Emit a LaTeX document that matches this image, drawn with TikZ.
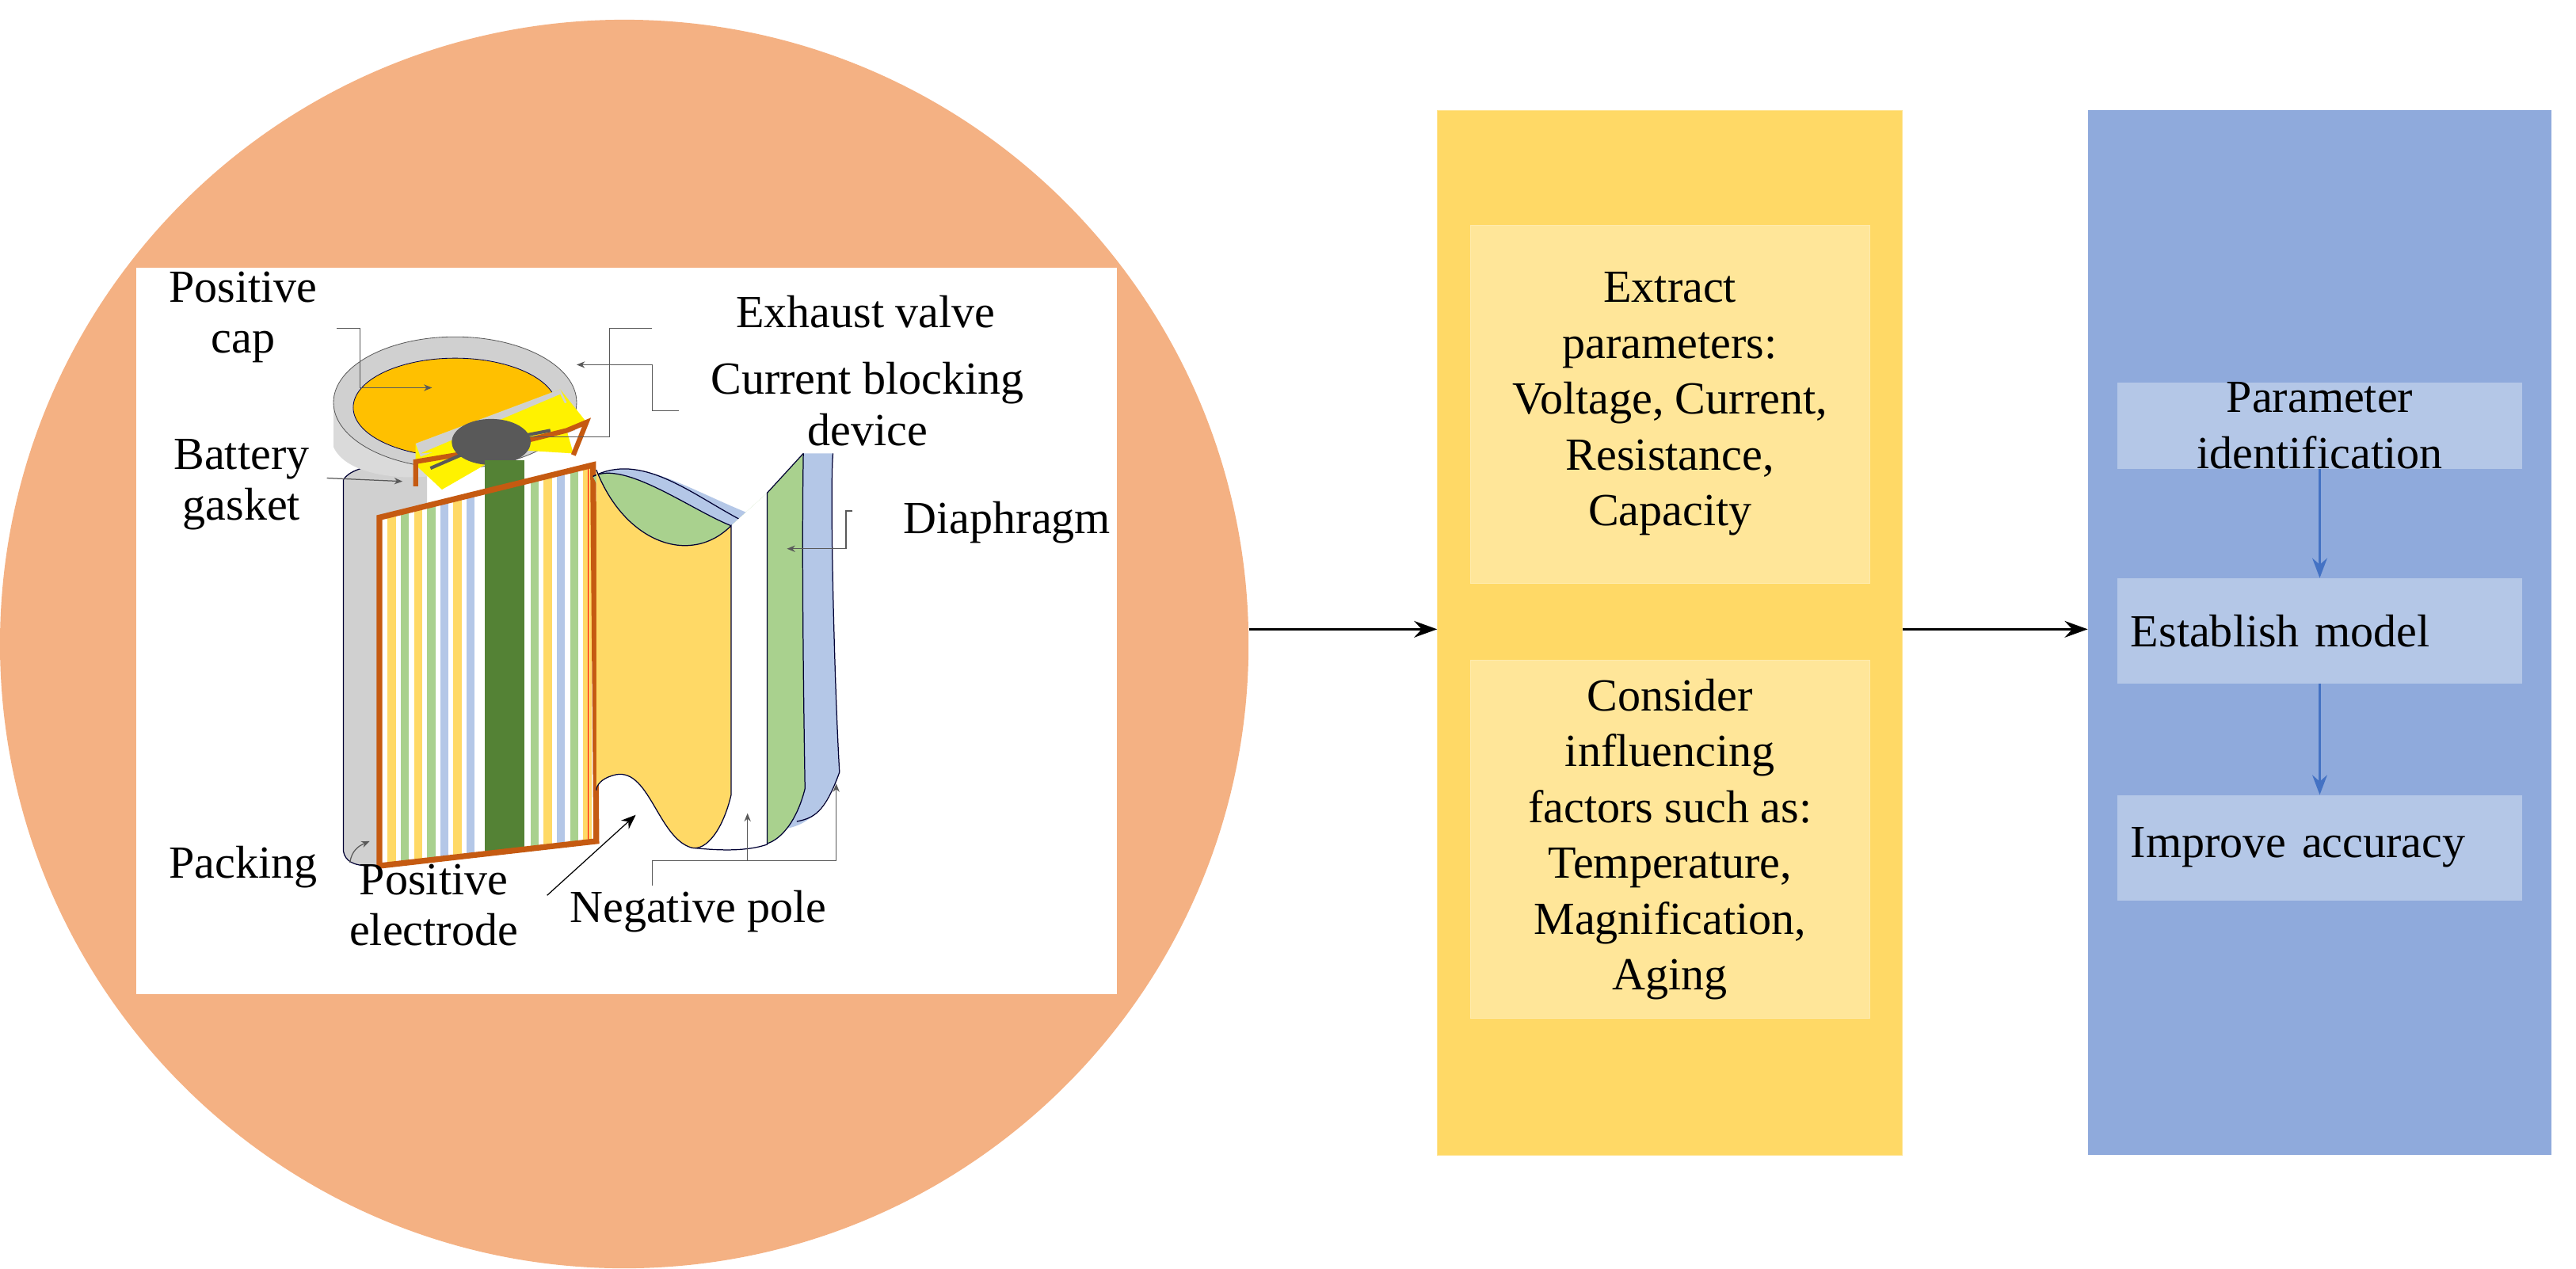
\documentclass[tikz,border=0pt]{standalone}
\usepackage{fontspec}
\setmainfont{Liberation Serif}
\usetikzlibrary{arrows.meta}
\definecolor{peach}{HTML}{F4B183}
\definecolor{ycol}{HTML}{FFD966}
\definecolor{ybox}{HTML}{FFE699}
\definecolor{bcol}{HTML}{8FAADC}
\definecolor{bbox}{HTML}{B4C7E7}
\definecolor{barrow}{HTML}{4472C4}
\definecolor{brown}{HTML}{C55A11}
\definecolor{lgreen}{HTML}{A9D18E}
\definecolor{dgreen}{HTML}{548235}
\definecolor{capor}{HTML}{FFC000}
\definecolor{lgray}{HTML}{D0D0D0}
\tikzset{
  big/.style={font=\fontsize{28}{34}\selectfont, align=center},
  lab/.style={font=\fontsize{28}{31}\selectfont, align=center, inner sep=0pt},
  main/.style={-{Stealth[length=14pt,width=10pt]}, line width=1.6pt},
  lead/.style={draw=gray!70!black, line width=0.6pt, -{Stealth[length=5pt,width=4pt]}},
  sheet/.style={draw=black!80!blue, line width=0.6pt},
}
\begin{document}
\begin{tikzpicture}[x=1pt,y=-1pt]
\useasboundingbox (0,0) rectangle (1568,772);
% circle
\node[circle, fill=peach, minimum size=760pt, inner sep=0pt] (circ) at (380,392) {};
\node[fill=white, minimum width=597pt, minimum height=442pt, inner sep=0pt] (pic) at (381.5,384) {};
% --- battery drawing ---
% packing cylinder
\fill[lgray] (209,292) .. controls (215,282) and (245,280) .. (260,285) -- (260,522) -- (225,527) .. controls (215,527) and (209,522) .. (209,518) -- cycle;
\draw[sheet] (209,292) .. controls (215,282) and (245,280) .. (260,285);
\draw[sheet] (209,292) -- (209,518) .. controls (210,524) and (215,527) .. (225,527);
% cap body
\fill[lgray!80] (203,245) -- (203,272) .. controls (210,288) and (240,292) .. (260,290) -- (350,262) -- (350,245) -- cycle;
\fill[lgray] (277,245) ellipse (74 and 40);
\draw[gray!70!black] (277,245) ellipse (74 and 40);
\fill[capor] (277,248) ellipse (62 and 30);
\draw[black!70!blue, thin] (277,248) ellipse (62 and 30);
% yellow inner & brown bracket
\fill[yellow] (253,283) -- (253,270) -- (341,237) -- (357,257) -- (345,262) -- (349,276) -- (301,273) -- (295,283) -- (269,298) -- cycle;
\fill[lgray] (253,270) -- (341,237) -- (345,245) -- (256,278) -- cycle;
\fill[yellow] (256,276) -- (341,240) -- (350,258) -- (300,272) -- cycle;
\draw[brown, line width=3pt] (253,296) -- (253,281) -- (301,273);
\draw[brown, line width=3pt] (301,273) -- (345,262) -- (357,257) -- (349,277);
\fill[gray!70!black] (299,269) ellipse (24 and 14);
\draw[gray!70!black, line width=2pt] (262,285) -- (299,269) -- (335,262);
\fill[dgreen] (295,280) rectangle (319,300);
% electrode panel
\begin{scope}
\clip (231,315) -- (361,283) -- (363,512) -- (231,527) -- cycle;
\fill[white] (225,270) rectangle (370,530);
\foreach \x/\c in {236/ycol,244/lgreen,252/ycol,260/lgreen,268/bbox,276/ycol,284/bbox,323/lgreen,331/ycol,339/bbox,347/lgreen,355/ycol}
  \fill[\c] (\x,270) rectangle ++(5,270);
\fill[dgreen] (295,270) rectangle (319,530);
\draw[red, thin] (358,270) -- (358,530);
\end{scope}
\draw[brown, line width=3.5pt] (231,315) -- (361,283) -- (363,512) -- (231,527) -- cycle;
% blue sheet
\fill[bbox] (361,290) .. controls (390,275) and (420,300) .. (470,318) -- (489,276) -- (507,276) .. controls (505,300) and (508,420) .. (511,470) .. controls (500,500) and (485,505) .. (470,505) -- cycle;
\draw[sheet] (361,290) .. controls (390,275) and (420,300) .. (450,316);
\draw[sheet] (507,276) .. controls (505,300) and (508,420) .. (511,470) .. controls (502,495) and (495,498) .. (485,500);
% green sheet
\fill[lgreen] (361,290) .. controls (380,280) and (420,310) .. (445,320) -- (467,300) -- (489,276) .. controls (488,330) and (489,420) .. (490,480) .. controls (485,500) and (475,512) .. (465,514) -- cycle;
\draw[sheet] (361,290) .. controls (380,280) and (420,310) .. (445,320);
\draw[sheet] (489,276) .. controls (488,330) and (489,420) .. (490,480) .. controls (485,500) and (475,512) .. (465,514);
% white sheet
\fill[white] (363,300) .. controls (380,330) and (420,345) .. (445,320) -- (467,300) -- (467,514) .. controls (455,518) and (440,518) .. (421,516) -- cycle;
\draw[sheet] (467,300) -- (467,514) .. controls (455,518) and (440,518) .. (421,516);
\draw[sheet] (467,300) -- (489,276);
% yellow sheet
\fill[ycol] (363,286) .. controls (380,330) and (420,345) .. (445,320) -- (445,484) .. controls (440,505) and (430,518) .. (421,516) .. controls (400,510) and (395,465) .. (373,472) .. controls (366,474) and (363,478) .. (363,481) -- cycle;
\draw[sheet] (363,286) .. controls (380,330) and (420,345) .. (445,320) -- (445,484) .. controls (440,505) and (430,518) .. (421,516) .. controls (400,510) and (395,465) .. (373,472) .. controls (366,474) and (363,478) .. (363,481);
% labels
\node[lab] (lpc) at (148,193) {Positive\\cap};
\node[lab] (lev) at (527,190) {Exhaust valve};
\node[lab] (lcb) at (528,246) {Current blocking\\device};
\node[lab] (lbg) at (147,295) {Battery\\gasket};
\node[lab] (ldi) at (613,318) {Diaphragm};
\node[lab] (lpk) at (148,528) {Packing};
\node[lab] (lpe) at (264,551) {Positive\\electrode};
\node[lab] (lnp) at (425,555) {Negative pole};
% leaders
\coordinate (a1) at (263,236); \coordinate (a2) at (317,266); \coordinate (a3) at (351,222);
\coordinate (a4) at (245,293); \coordinate (a5) at (479,334); \coordinate (a6) at (225,512);
\coordinate (a7) at (509,477); \coordinate (a8) at (455,495); \coordinate (a9) at (387,496);
\draw[lead] (205,200) -| (219,236) -- (a1);
\draw[lead] (397,200) -- (371,200) |- (a2);
\draw[lead] (413,250) -- (397,250) |- (a3);
\draw[lead] (199,291) -- (a4);
\draw[lead] (519,311) -- (515,311) |- (a5);
\draw[lead] (213,525) .. controls (214,518) and (218,515) .. (a6);
\draw[lead] (397,539) |- (509,524) -- (a7);
\draw[lead] (455,524) -- (a8);
\draw[black, line width=0.6pt, -{Stealth[length=9pt,width=7pt]}] (333,545) -- (a9);
% columns
\node[fill=ycol, draw=ycol!70!white, minimum width=283pt, minimum height=636pt, inner sep=0pt] (ycolumn) at (1016.5,385) {};
\node[fill=ybox, draw=ybox!80!white, minimum width=243pt, minimum height=218pt, big] (yb1) at (1016.5,246) {Extract\\parameters:\\Voltage, Current,\\Resistance,\\Capacity};
\node[fill=ybox, draw=ybox!80!white, minimum width=243pt, minimum height=218pt, big] (yb2) at (1016.5,511) {Consider\\influencing\\factors such as:\\Temperature,\\Magnification,\\Aging};
\node[fill=bcol, minimum width=282pt, minimum height=636pt, inner sep=0pt] (bcolumn) at (1412,385) {};
\node[fill=bbox, minimum width=246pt, minimum height=52pt, big, inner sep=0pt] (b1) at (1412,259) {Parameter\\identification};
\node[fill=bbox, minimum width=246pt, minimum height=64pt, big, text width=230pt, align=left, inner sep=0pt] (b2) at (1412,384) {Establish model};
\node[fill=bbox, minimum width=246pt, minimum height=64pt, big, text width=230pt, align=left, inner sep=0pt] (b3) at (1412,516) {Improve accuracy};
\draw[barrow, line width=1.5pt, -{Stealth[length=12pt,width=9pt]}] (b1) -- (b2);
\draw[barrow, line width=1.5pt, -{Stealth[length=12pt,width=9pt]}] (b2) -- (b3);
\draw[main] (circ.east |- 0,383) -- (ycolumn.west |- 0,383);
\draw[main] (ycolumn.east |- 0,383) -- (bcolumn.west |- 0,383);
\end{tikzpicture}
\end{document}
